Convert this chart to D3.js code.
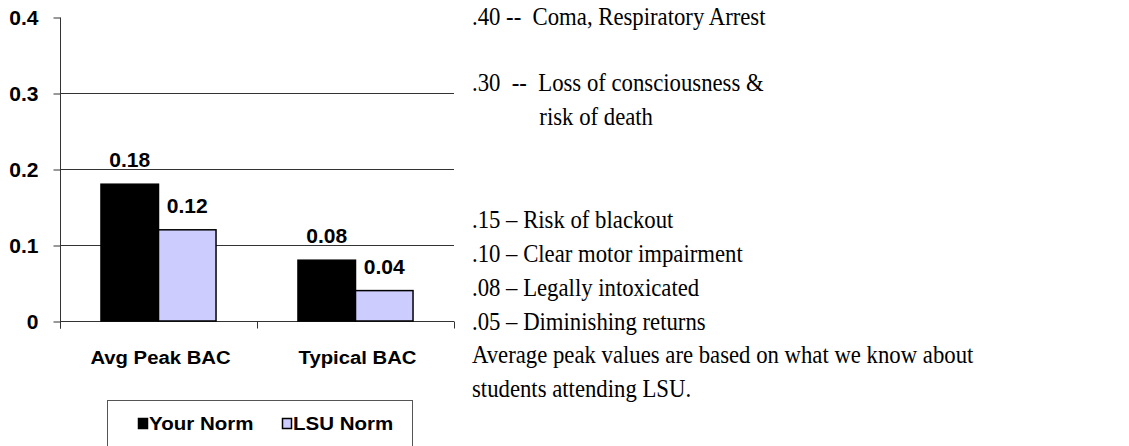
<!DOCTYPE html>
<html>
<head>
<meta charset="utf-8">
<script src="https://cdn.jsdelivr.net/npm/d3@7"></script>
<style>
  html, body { margin: 0; padding: 0; background: #fff; }
  svg { display: block; }
  text { white-space: pre; }
</style>
</head>
<body>
<svg id="chart" width="1129" height="446"></svg>
<script>
// ---- data ----
const categories = ["Avg Peak BAC", "Typical BAC"];
const seriesNames = ["Your Norm", "LSU Norm"];
const yourNorm = [0.18, 0.08];
const lsuNorm = [0.12, 0.04];
const yTicks = [0, 0.1, 0.2, 0.3, 0.4];
const noteLines = [
  ".40 --  Coma, Respiratory Arrest",
  ".30  --  Loss of consciousness &",
  "risk of death",
  ".15 \u2013 Risk of blackout",
  ".10 \u2013 Clear motor impairment",
  ".08 \u2013 Legally intoxicated",
  ".05 \u2013 Diminishing returns",
  "Average peak values are based on what we know about",
  "students attending LSU."
];

// ---- layout ----
const svg = d3.select("#chart");
const pL = 60, pR = 454, pT = 17, pB = 321;
const colors = ["#000000", "#ccccff"];
const SX = 1.08;           // horizontal stretch of chart text
const FS = 19.5;           // chart font size
const SANS = "'Liberation Sans', Arial, sans-serif";

function place(sel, fx, fy, fs) {
  sel.attr("x", 0).attr("y", 0)
    .attr("transform", (d, i) => `translate(${fx(d, i)},${fy(d, i)}) scale(${SX},1)`)
    .attr("font-family", SANS).attr("font-weight", "bold")
    .attr("font-size", fs || FS).attr("fill", "#000");
}

const y = d3.scaleLinear().domain([0, 0.4]).range([pB, pT]);
const x = d3.scaleBand().domain(categories).range([pL, pR])
  .paddingInner(0.416).paddingOuter(0.208);
const xs = d3.scaleBand().domain(seriesNames).range([0, x.bandwidth()]);

// gridlines (not at 0 or 0.4)
svg.append("g").selectAll("line")
  .data(yTicks.filter(d => d > 0 && d < 0.4))
  .join("line")
  .attr("x1", pL).attr("x2", pR)
  .attr("y1", d => Math.round(y(d)) + 0.5).attr("y2", d => Math.round(y(d)) + 0.5)
  .attr("stroke", "#333").attr("stroke-width", 1);

// y axis
const yAxis = d3.axisLeft(y).tickValues(yTicks).tickSize(7).tickPadding(14)
  .tickFormat(d => d === 0 ? "0" : String(d));
const yg = svg.append("g").attr("transform", `translate(${pL + 0.5},0.5)`).call(yAxis);
yg.select(".domain").attr("stroke", "#333").attr("d", `M0,${pT}V${pB + 7}`);
yg.selectAll(".tick line").attr("stroke", "#333");
place(yg.selectAll(".tick text").attr("dy", null), () => -22, () => 7);
yg.selectAll(".tick text").attr("text-anchor", "end");

// x axis
const xAxisG = svg.append("g").attr("transform", `translate(0,${pB + 0.5})`);
xAxisG.append("line").attr("x1", pL).attr("x2", pR).attr("y1", 0).attr("y2", 0).attr("stroke", "#333");
const boundaries = [pL, (pL + pR) / 2, pR];
xAxisG.selectAll("line.tk").data(boundaries).join("line").attr("class", "tk")
  .attr("x1", d => Math.round(d) + 0.5).attr("x2", d => Math.round(d) + 0.5)
  .attr("y1", 0).attr("y2", 7).attr("stroke", "#333");
const xl = xAxisG.selectAll("text").data(categories).join("text")
  .attr("text-anchor", "middle").text(d => d);
place(xl, d => x(d) + x.bandwidth() / 2 + 2, () => 363 - pB, 18.8);

// bars
const rows = categories.map((c, i) => ({ cat: c, vals: [yourNorm[i], lsuNorm[i]] }));
const groups = svg.append("g").selectAll("g").data(rows).join("g")
  .attr("transform", d => `translate(${x(d.cat)},0)`);
groups.selectAll("rect").data(d => d.vals.map((v, j) => ({ v, s: seriesNames[j], j })))
  .join("rect")
  .attr("x", d => xs(d.s)).attr("width", xs.bandwidth())
  .attr("y", d => y(d.v)).attr("height", d => y(0) - y(d.v))
  .attr("fill", d => colors[d.j]).attr("stroke", "#000").attr("stroke-width", 1.5);
const vl = groups.selectAll("text").data(d => d.vals.map((v, j) => ({ v, s: seriesNames[j], j })))
  .join("text")
  .attr("text-anchor", "middle")
  .text(d => d3.format(".2f")(d.v));
place(vl, d => xs(d.s) + xs.bandwidth() / 2, d => y(d.v) - 17);

// legend
const lg = svg.append("g");
lg.append("rect").attr("x", 107.5).attr("y", 400.5).attr("width", 305).attr("height", 60)
  .attr("fill", "#fff").attr("stroke", "#555").attr("stroke-width", 1);
const legendX = [138, 282];
lg.selectAll("rect.sw").data(seriesNames).join("rect").attr("class", "sw")
  .attr("x", (d, i) => legendX[i] + 0.5).attr("y", 418.5).attr("width", 9).attr("height", 10)
  .attr("fill", (d, i) => colors[i]).attr("stroke", "#000").attr("stroke-width", 1.5);
const lt = lg.selectAll("text").data(seriesNames).join("text").text(d => d);
place(lt, (d, i) => legendX[i] + 11, () => 430, 19);

// notes on the right
const noteY = [25, 91, 125, 228, 262, 296, 330, 363, 397];
const noteX = [0, 0, 77, 0, 0, 0, 0, 0, 0];
const ng = svg.append("g").attr("transform", "translate(472,0) scale(0.875,1)");
ng.selectAll("text").data(noteLines).join("text")
  .attr("x", (d, i) => noteX[i])
  .attr("y", (d, i) => noteY[i])
  .attr("font-family", "'Liberation Serif', 'Times New Roman', serif")
  .attr("font-size", 26).attr("fill", "#000")
  .text(d => d);
</script>
</body>
</html>
